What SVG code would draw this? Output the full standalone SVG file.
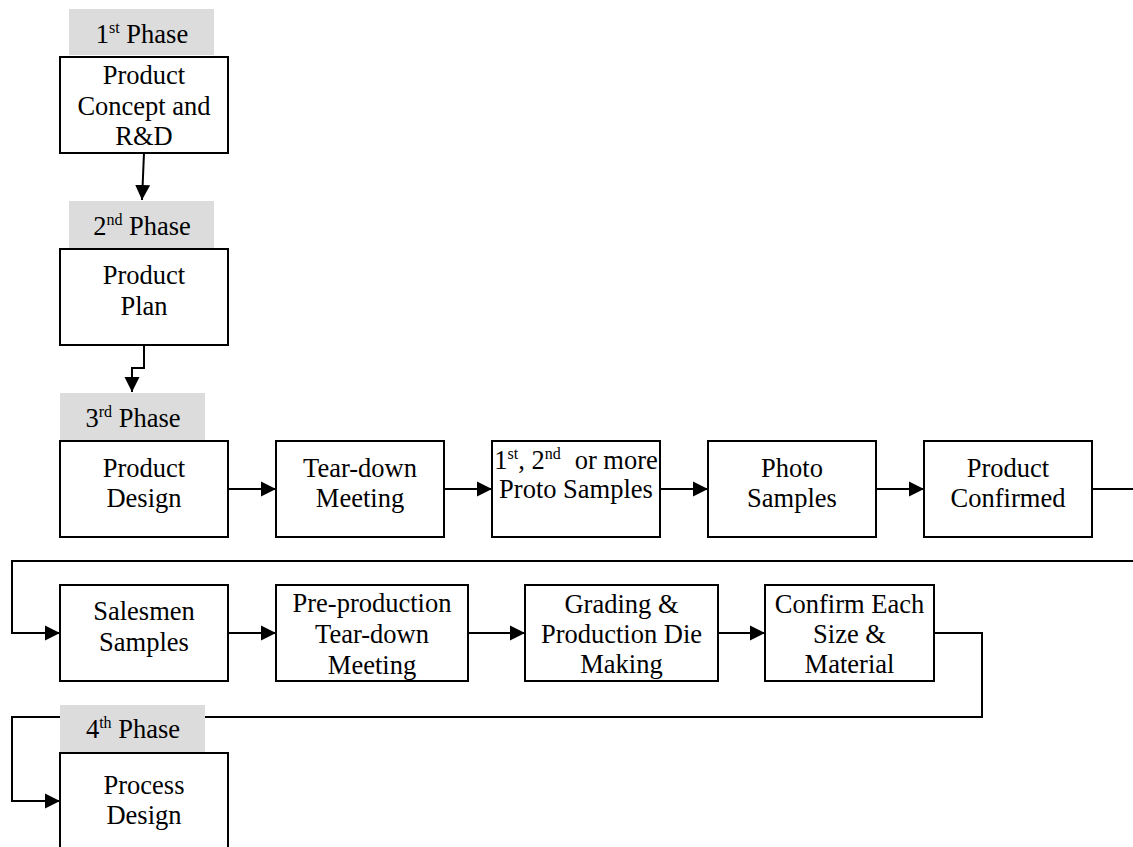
<svg xmlns="http://www.w3.org/2000/svg" width="1133" height="847" viewBox="0 0 1133 847" font-family="'Liberation Serif', 'Times New Roman', serif">
  <defs>
    <marker id="arrow" markerUnits="userSpaceOnUse" markerWidth="17" markerHeight="17" refX="15" refY="8" orient="auto">
      <path d="M0,0.5 L15,8 L0,15.5 z" fill="#000"/>
    </marker>
    <style>
      .box { fill: #fff; stroke: #000; stroke-width: 2; }
      .phase { fill: #dcdcdc; stroke: none; }
      .lbl { font-family: 'Liberation Serif', 'Times New Roman', serif; font-size: 26.5px; fill: #000; text-anchor: middle; }
      .sup { font-size: 16px; }
      .wire { fill: none; stroke: #000; stroke-width: 2; }
      .arr { marker-end: url(#arrow); }
    </style>
  </defs>
  <rect width="1133" height="847" fill="#fff"/>

  <!-- connectors (drawn first so the phase tabs sit over the return line) -->
  <g id="connectors">
    <path class="wire arr" d="M144,153 L142,200"/>
    <path class="wire arr" d="M144,345 V368 H132 V392"/>
    <path class="wire arr" d="M228,489 H276"/>
    <path class="wire arr" d="M444,489 H492"/>
    <path class="wire arr" d="M660,489 H708"/>
    <path class="wire arr" d="M876,489 H924"/>
    <path class="wire" d="M1092,489 H1140"/>
    <path class="wire arr" d="M1140,561 H12 V633 H60"/>
    <path class="wire arr" d="M228,633 H276"/>
    <path class="wire arr" d="M468,633 H525"/>
    <path class="wire arr" d="M718,633 H765"/>
    <path class="wire arr" d="M934,633 H982 V717 H12 V801 H60"/>
  </g>

  <!-- phase tabs -->
  <g id="phase1">
    <rect class="phase" x="69" y="9" width="145" height="46"/>
    <text class="lbl" x="142" y="43">1<tspan class="sup" dy="-10">st</tspan><tspan dy="10"> Phase</tspan></text>
  </g>
  <g id="phase2">
    <rect class="phase" x="69" y="201" width="145" height="47"/>
    <text class="lbl" x="142" y="235">2<tspan class="sup" dy="-10">nd</tspan><tspan dy="10"> Phase</tspan></text>
  </g>
  <g id="phase3">
    <rect class="phase" x="60" y="393" width="145" height="47"/>
    <text class="lbl" x="133" y="427">3<tspan class="sup" dy="-10">rd</tspan><tspan dy="10"> Phase</tspan></text>
  </g>
  <g id="phase4">
    <rect class="phase" x="60" y="705" width="145" height="47"/>
    <text class="lbl" x="133" y="738">4<tspan class="sup" dy="-10">th</tspan><tspan dy="10"> Phase</tspan></text>
  </g>

  <!-- process steps -->
  <g id="concept">
    <rect class="box" x="60" y="57" width="168" height="96"/>
    <text class="lbl" x="144" y="84">Product</text>
    <text class="lbl" x="144" y="114.5">Concept and</text>
    <text class="lbl" x="144" y="145">R&amp;D</text>
  </g>
  <g id="plan">
    <rect class="box" x="60" y="249" width="168" height="96"/>
    <text class="lbl" x="144" y="284">Product</text>
    <text class="lbl" x="144" y="315">Plan</text>
  </g>
  <g id="design">
    <rect class="box" x="60" y="441" width="168" height="96"/>
    <text class="lbl" x="144" y="477">Product</text>
    <text class="lbl" x="144" y="507">Design</text>
  </g>
  <g id="teardown">
    <rect class="box" x="276" y="441" width="168" height="96"/>
    <text class="lbl" x="360" y="477">Tear-down</text>
    <text class="lbl" x="360" y="507">Meeting</text>
  </g>
  <g id="proto">
    <rect class="box" x="492" y="441" width="168" height="96"/>
    <text class="lbl" x="576" y="469">1<tspan class="sup" dy="-10">st</tspan><tspan dy="10">, 2</tspan><tspan class="sup" dy="-10">nd</tspan><tspan dy="10" dx="14">or more</tspan></text>
    <text class="lbl" x="576" y="498">Proto Samples</text>
  </g>
  <g id="photo">
    <rect class="box" x="708" y="441" width="168" height="96"/>
    <text class="lbl" x="792" y="477">Photo</text>
    <text class="lbl" x="792" y="507">Samples</text>
  </g>
  <g id="confirmed">
    <rect class="box" x="924" y="441" width="168" height="96"/>
    <text class="lbl" x="1008" y="477">Product</text>
    <text class="lbl" x="1008" y="507">Confirmed</text>
  </g>
  <g id="salesmen">
    <rect class="box" x="60" y="585" width="168" height="96"/>
    <text class="lbl" x="144" y="620">Salesmen</text>
    <text class="lbl" x="144" y="651">Samples</text>
  </g>
  <g id="preproduction">
    <rect class="box" x="276" y="585" width="192" height="96"/>
    <text class="lbl" x="372" y="612">Pre-production</text>
    <text class="lbl" x="372" y="643">Tear-down</text>
    <text class="lbl" x="372" y="674">Meeting</text>
  </g>
  <g id="grading">
    <rect class="box" x="525" y="585" width="193" height="96"/>
    <text class="lbl" x="621.5" y="613">Grading &amp;</text>
    <text class="lbl" x="621.5" y="643">Production Die</text>
    <text class="lbl" x="621.5" y="673">Making</text>
  </g>
  <g id="sizes">
    <rect class="box" x="765" y="585" width="169" height="96"/>
    <text class="lbl" x="849.5" y="613">Confirm Each</text>
    <text class="lbl" x="849.5" y="643">Size &amp;</text>
    <text class="lbl" x="849.5" y="673">Material</text>
  </g>
  <g id="process">
    <rect class="box" x="60" y="753" width="168" height="100"/>
    <text class="lbl" x="144" y="794">Process</text>
    <text class="lbl" x="144" y="824">Design</text>
  </g>
</svg>
